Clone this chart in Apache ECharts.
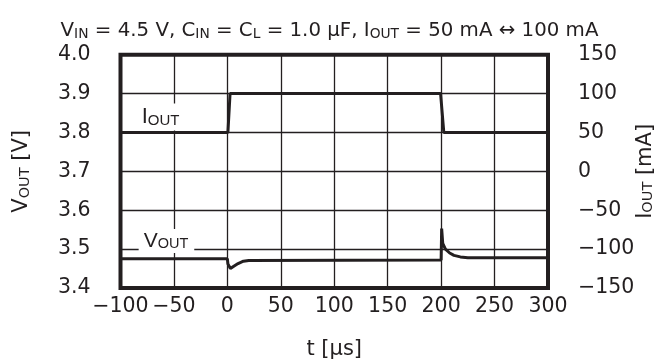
<!DOCTYPE html>
<html>
<head>
<meta charset="utf-8">
<script src="https://cdn.jsdelivr.net/npm/echarts@6/dist/echarts.min.js"></script>
<style>
  html, body { margin: 0; padding: 0; background: #fff; }
  #chart { width: 659px; height: 360px; }
</style>
</head>
<body>
<div id="chart"></div>
<script>
// load transient trace
const voutTime = [-100, 0, 0.5, 2.8, 6, 10, 15, 20, 200, 200.5, 201.5, 204, 208, 212, 218, 225, 300];
const voutVals = [3.475, 3.475, 3.462, 3.450, 3.456, 3.463, 3.469, 3.471, 3.472, 3.553, 3.515, 3.500, 3.490, 3.484, 3.480, 3.478, 3.478];

const ioutTime = [-100, 0.5, 2.5, 199.5, 202.5, 300];
const ioutVals = [50, 50, 100, 100, 50, 50];

const ink = "#231f20";
const wide = "DejaVu Sans, sans-serif";
const narrow = "Liberation Sans, Arial, sans-serif";

const minus = (v) => String(v).replace("-", "\u2212");

const dom = document.getElementById("chart");
const myChart = echarts.init(dom, null, { renderer: "canvas" });

const sub = (size, fam) => ({
  fontSize: size, fontFamily: fam || wide, fontWeight: "normal", color: ink, verticalAlign: "bottom",
});

const option = {
  animation: false,
  backgroundColor: "#fff",
  title: {
    left: "center",
    top: 16,
    text: "{n|V}{s|IN}{n| = 4.5 V, C}{s|IN}{n| = C}{s|L}{n| = 1.0 \u00b5F, I}{s|OUT}{n| = 50 mA \u2194 100 mA}",
    textStyle: {
      fontWeight: "normal",
      rich: { n: sub(19.8), s: sub(13.8) },
    },
  },
  grid: {
    left: 120.5,
    right: 111,
    top: 54.7,
    bottom: 72,
    show: true,
    borderWidth: 4,
    borderColor: ink,
    containLabel: false,
    outerBoundsMode: "none",
  },
  xAxis: {
    type: "value",
    min: -100,
    max: 300,
    interval: 50,
    name: "t [\u00b5s]",
    nameLocation: "middle",
    nameGap: 51,
    nameMoveOverlap: false,
    nameTextStyle: { fontSize: 21, fontFamily: wide, color: ink },
    axisLine: { show: false },
    axisTick: { show: false },
    axisLabel: { fontSize: 20.5, fontFamily: wide, color: ink, margin: 8, formatter: minus },
    splitLine: { lineStyle: { color: ink, width: 1.3 } },
  },
  yAxis: [
    {
      type: "value",
      min: 3.4,
      max: 4.0,
      interval: 0.1,
      name: "{n|V}{s|OUT}{n| [V]}",
      nameLocation: "middle",
      nameRotate: 90,
      nameGap: 88,
      nameMoveOverlap: false,
      nameTextStyle: { rich: { n: sub(21), s: sub(14.5) } },
      axisLine: { show: false },
      axisTick: { show: false },
      axisLabel: {
        fontSize: 20.5, fontFamily: wide, color: ink, margin: 30,
        formatter: (v) => v.toFixed(1),
      },
      splitLine: { lineStyle: { color: ink, width: 1.3 } },
    },
    {
      type: "value",
      min: -150,
      max: 150,
      interval: 50,
      name: "{n|I}{s|OUT}{n| [mA]}",
      nameLocation: "middle",
      nameRotate: 90,
      nameGap: 87,
      nameMoveOverlap: false,
      nameTextStyle: { rich: { n: sub(21), s: sub(14.5) } },
      axisLine: { show: false },
      axisTick: { show: false },
      axisLabel: { fontSize: 20.5, fontFamily: wide, color: ink, margin: 30, formatter: minus },
      splitLine: { show: false },
    },
  ],
  series: [
    {
      name: "VOUT",
      type: "line",
      yAxisIndex: 0,
      showSymbol: false,
      data: voutTime.map((t, i) => [t, voutVals[i]]),
      lineStyle: { color: ink, width: 3 },
      markPoint: {
        symbolSize: 0,
        label: {
          show: true,
          position: "inside",
          formatter: "{n|V}{s|OUT}",
          backgroundColor: "#fff",
          padding: [2, 6, 1, 5],
          rich: { n: sub(21, narrow), s: sub(14.5, narrow) },
        },
        data: [{ coord: [-57, 3.521] }],
      },
    },
    {
      name: "IOUT",
      type: "line",
      yAxisIndex: 1,
      showSymbol: false,
      data: ioutTime.map((t, i) => [t, ioutVals[i]]),
      lineStyle: { color: ink, width: 3 },
      markPoint: {
        symbolSize: 0,
        label: {
          show: true,
          position: "inside",
          formatter: "{n|I}{s|OUT}",
          backgroundColor: "#fff",
          padding: [3, 7, 2, 6],
          rich: { n: sub(22, narrow), s: sub(15, narrow) },
        },
        data: [{ coord: [-62, 70] }],
      },
    },
  ],
};

myChart.setOption(option);
</script>
</body>
</html>
